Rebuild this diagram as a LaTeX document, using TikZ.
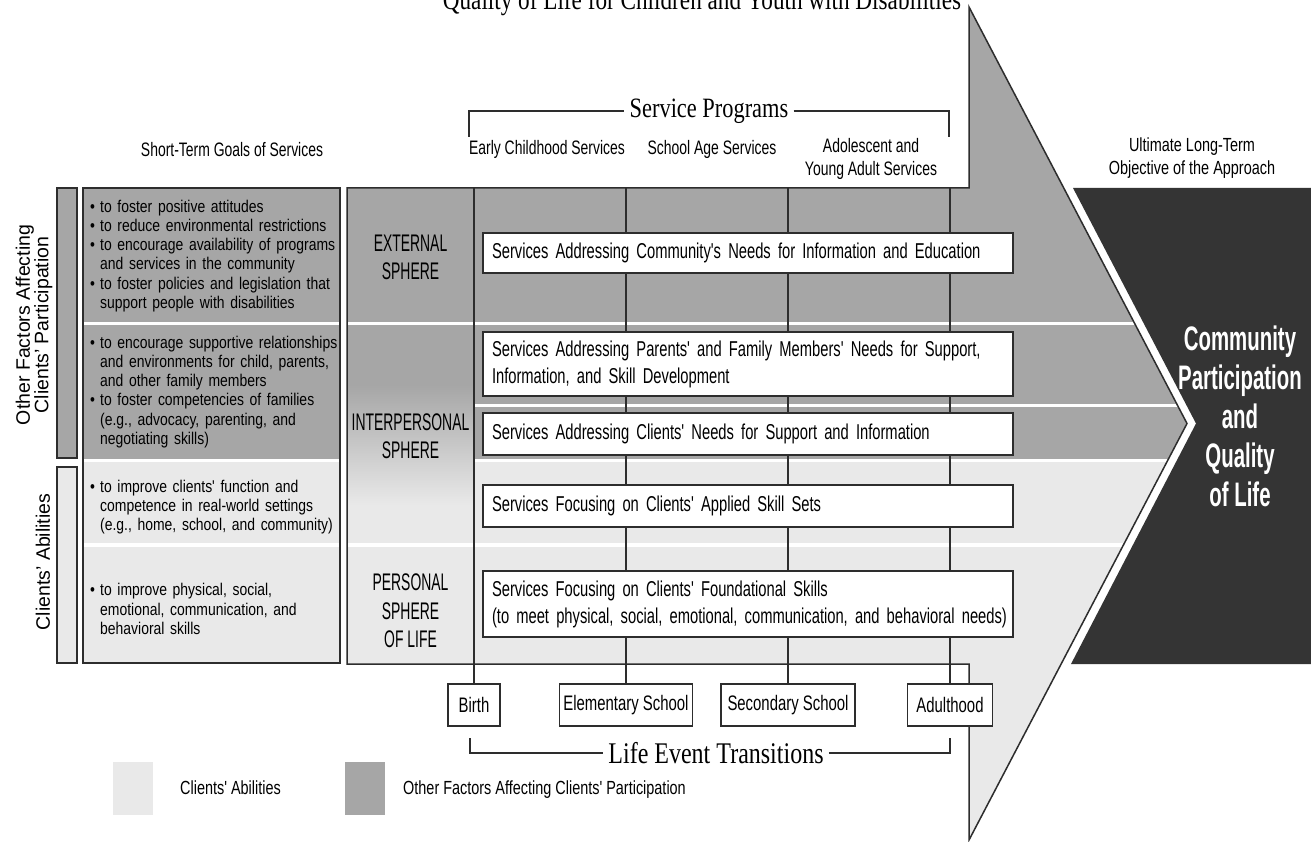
\documentclass[tikz,border=0pt]{standalone}
\usepackage{fontspec}
\setmainfont{Liberation Sans}
\newfontfamily\goalsf[FakeStretch=0.82]{Liberation Sans}
\newfontfamily\condf[FakeStretch=0.76]{Liberation Sans}
\newfontfamily\hdrf[FakeStretch=0.715]{Liberation Sans}
\newfontfamily\svcf[FakeStretch=0.685]{Liberation Sans}
\newfontfamily\lifef[FakeStretch=0.71]{Liberation Sans}
\newfontfamily\sphf[FakeStretch=0.58]{Liberation Sans}
\newfontfamily\bigf[FakeStretch=0.6]{Liberation Sans}
\newfontfamily\serf[FakeStretch=0.8]{Liberation Serif}
\usetikzlibrary{calc}
\definecolor{dg}{RGB}{166,166,166}
\definecolor{lg}{RGB}{233,233,233}
\definecolor{blk}{RGB}{52,52,52}
\definecolor{ln}{RGB}{45,45,45}
\newcommand{\gb}[1]{\hangindent=10pt\hangafter=1\noindent\makebox[10pt][l]{\textbullet}#1\par}
\begin{document}
\begin{tikzpicture}[x=1pt,y=-1pt,
  ol/.style={draw=ln,line width=1.5pt},
  gl/.style={draw=ln,line width=1.4pt},
  svc/.style={draw=ln,line width=1.7pt,fill=white,inner xsep=9pt,inner ysep=0pt,text width=512pt,minimum width=530pt,align=left,font=\svcf\fontsize{21.5}{27}\selectfont},
  lifebox/.style={draw=ln,line width=1.5pt,fill=white,inner sep=0pt,minimum height=42pt,font=\lifef\fontsize{21}{24}\selectfont},
  goal/.style={anchor=west,inner sep=0pt,text width=250pt,align=left,font=\goalsf\fontsize{17}{19.2}\selectfont},
  sph/.style={align=center,inner sep=0pt,font=\sphf\fontsize{24}{28.5}\selectfont},
  hdr/.style={align=center,inner sep=0pt,font=\hdrf\fontsize{19.5}{23}\selectfont},
  ser/.style={inner xsep=5pt,inner ysep=0pt,font=\serf\fontsize{28}{30}\selectfont},
  side/.style={rotate=90,align=center,inner sep=0pt,font=\fontsize{19.5}{18.5}\selectfont},
  leg/.style={anchor=base west,inner sep=0pt,font=\condf\fontsize{19}{23}\selectfont},
]
\useasboundingbox (0,0) rectangle (1311,842);
\fill[white] (0,0) rectangle (1311,842);
\def\arrowpath{(347,188) -- (969,188) -- (969,7) -- (1187,423.5) -- (969,840) -- (969,664) -- (347,664) -- cycle}
% arrow fills
\begin{scope}
  \clip \arrowpath;
  \fill[dg] (340,0) rectangle (1311,460);
  \fill[lg] (340,460) rectangle (1311,842);
  \shade[top color=dg,bottom color=lg] (347,385) rectangle (474,505);
  \fill[white] (340,321.5) rectangle (1311,325);
  \fill[white] (474,403.5) rectangle (1311,407);
  \fill[white] (474,458.5) rectangle (1311,462);
  \fill[white] (340,543) rectangle (1311,546.5);
\end{scope}
% goals column
\fill[dg] (83,188) rectangle (340,460);
\fill[lg] (83,460) rectangle (340,663);
\fill[white] (83,321.5) rectangle (340,325);
\fill[white] (83,458.5) rectangle (340,462);
\fill[white] (83,543) rectangle (340,546.5);
\draw[ol] (83,188) rectangle (340,663);
% side bars
\draw[ol,fill=dg] (57,188) rectangle (77,458);
\draw[ol,fill=lg] (57,467) rectangle (77,663);
\node[side] (sideA) at (34,325) {Other Factors Affecting\\Clients' Participation};
\node[side] (sideB) at (43,562) {Clients' Abilities};
% life event boxes
\node[lifebox,minimum width=52pt] (birth) at (474,705) {Birth};
\node[lifebox,minimum width=133pt] (elem) at (626,705) {Elementary School};
\node[lifebox,minimum width=134pt] (sec) at (788,705) {Secondary School};
\node[lifebox,minimum width=85pt] (adult) at (950,705) {Adulthood};
% grid lines
\coordinate (g1) at (474,188);
\coordinate (g2) at (626,188);
\coordinate (g3) at (788,188);
\coordinate (g4) at (950,188);
\draw[gl] (g1) -- (birth.north);
\draw[gl] (g2) -- (elem.north);
\draw[gl] (g3) -- (sec.north);
\draw[gl] (g4) -- (adult.north);
% arrow outline
\draw[ol] \arrowpath;
\node[lifebox,minimum width=85pt] at (adult) {Adulthood};
% service boxes
\node[svc,minimum height=40pt] (s1) at (748,253) {\mbox{Services Addressing Community's Needs for Information and Education}};
\node[svc,minimum height=64pt] (s2) at (748,364) {\mbox{Services Addressing Parents' and Family Members' Needs for Support,}\\\mbox{Information, and Skill Development}};
\node[svc,minimum height=42pt] (s3) at (748,434) {\mbox{Services Addressing Clients' Needs for Support and Information}};
\node[svc,minimum height=42pt] (s4) at (748,506) {\mbox{Services Focusing on Clients' Applied Skill Sets}};
\node[svc,minimum height=66pt] (s5) at (748,604) {\mbox{Services Focusing on Clients' Foundational Skills}\\\mbox{(to meet physical, social, emotional, communication, and behavioral needs)}};
% spheres
\node[sph] (ext) at (410.5,257.5) {EXTERNAL\\SPHERE};
\node[sph] (inter) at (410.5,436) {INTERPERSONAL\\SPHERE};
\node[sph] (pers) at (410.5,611) {PERSONAL\\SPHERE\\OF LIFE};
% goals text
\node[goal] (gA) at (90,256) {\gb{to foster positive attitudes}\gb{to reduce environmental restrictions}\gb{to encourage availability of programs\newline and services in the community}\gb{to foster policies and legislation that\newline support people with disabilities}};
\node[goal] (gB) at (90,392) {\gb{to encourage supportive relationships\newline and environments for child, parents,\newline and other family members}\gb{to foster competencies of families\newline (e.g., advocacy, parenting, and\newline negotiating skills)}};
\node[goal] (gC) at (90,507) {\gb{to improve clients' function and\newline competence in real-world settings\newline (e.g., home, school, and community)}};
\node[goal] (gD) at (90,609) {\gb{to improve physical, social,\newline emotional, communication, and\newline behavioral skills}};
% headers
\node[hdr] (stg) at (232,150) {Short-Term Goals of Services};
\node[hdr] (ecs) at (547,149) {Early Childhood Services};
\node[hdr] (sas) at (712,149) {School Age Services};
\node[hdr] (ays) at (871,159) {Adolescent and\\Young Adult Services};
\node[align=center,inner sep=0pt,font=\condf\fontsize{19}{23}\selectfont] (ult) at (1192,158) {Ultimate Long-Term\\Objective of the Approach};
% brackets
\node[ser] (sp) at (709,111) {Service Programs};
\coordinate (spl) at (469,137);
\coordinate (spr) at (949,137);
\draw[gl,line width=1.2pt] (spl) |- (sp.west);
\draw[gl,line width=1.2pt] (sp.east) -| (spr);
\node[ser,font=\serf\fontsize{30}{32}\selectfont] (let) at (716,753) {Life Event Transitions};
\coordinate (letl) at (470,738);
\coordinate (letr) at (950,738);
\draw[gl,line width=1.2pt] (letl) |- (let.west);
\draw[gl,line width=1.2pt] (let.east) -| (letr);
% title
\node[anchor=base,inner sep=0pt,font=\serf\fontsize{29}{30}\selectfont] (title) at (702,10) {Quality of Life for Children and Youth with Disabilities};
% objective box
\fill[blk] (1073,188) -- (1311,188) -- (1311,664) -- (1071,664) -- (1196,423.5) -- cycle;
\node[align=center,text=white,inner sep=0pt,font=\bigf\bfseries\fontsize{34}{39}\selectfont] (goal) at (1240,416) {Community\\Participation\\and\\Quality\\of Life};
% legend
\fill[lg] (113,762) rectangle (153,815);
\node[leg] (legA) at (180,794) {Clients' Abilities};
\fill[dg] (345,762) rectangle (385,815);
\node[leg] (legB) at (403,794) {Other Factors Affecting Clients' Participation};
\end{tikzpicture}
\end{document}
